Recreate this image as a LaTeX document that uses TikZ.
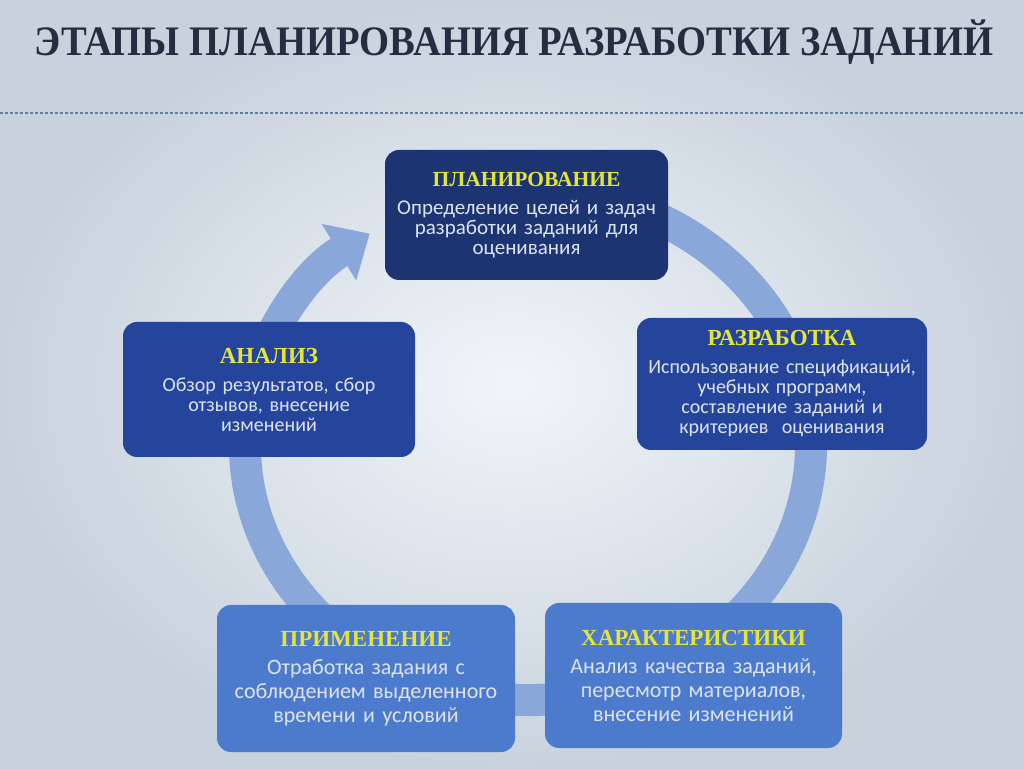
\documentclass[tikz,border=0pt]{standalone}
\usepackage{fontspec}
\setmainfont{Carlito}
\newfontfamily\headfont{Liberation Serif}
\usetikzlibrary{arrows.meta}
\definecolor{bgin}{HTML}{F1F5F9}
\definecolor{bgout}{HTML}{C8D2DD}
\definecolor{darkbox}{HTML}{1D3473}
\definecolor{midbox}{HTML}{24459B}
\definecolor{lightbox}{HTML}{4C7ACD}
\definecolor{ringc}{HTML}{8AA7DA}
\definecolor{bodyc}{HTML}{DDE3EE}
\definecolor{headc}{HTML}{E4E53B}
\definecolor{titlec}{HTML}{272D40}
\definecolor{linec}{HTML}{5F7CA3}
\newcommand{\stagehead}[2][23]{{\headfont\bfseries\fontsize{#1}{24}\selectfont\color{headc}#2}}
\begin{document}
\begin{tikzpicture}[x=1pt, y=1pt,
  every node/.style={rounded corners=14pt, align=center, inner sep=0pt, text=bodyc},
  ring/.style={line width=32pt, draw=ringc, -{Triangle[width=64pt, length=36pt]}}]
\useasboundingbox (0,0) rectangle (1024,768);
\shade[inner color=bgin, outer color=bgout] (0,0) rectangle (1024,768);
% title and rule
\node[text=titlec, font=\headfont\bfseries\fontsize{42}{44}\selectfont] (title) at (514,726)
  {\scalebox{0.92}[1]{ЭТАПЫ ПЛАНИРОВАНИЯ РАЗРАБОТКИ ЗАДАНИЙ}};
\coordinate (l0) at (0,655);
\coordinate (l1) at (1024,655);
\draw[linec, line width=2pt, dash pattern=on 3pt off 2pt] (l0) -- (l1);
% cycle ring
\coordinate (c) at (528,323);
\draw[ring] (c) ++(440:283 and 255) arc[start angle=440, end angle=124, x radius=283, y radius=255];
% stages
\node[fill=darkbox, minimum width=283pt, minimum height=130pt, text width=275pt,
  font=\fontsize{21}{20}\selectfont] (n0) at (526.5,553)
  {\stagehead[21.5]{ПЛАНИРОВАНИЕ}\\[8pt] Определение целей и задач\\ разработки заданий для\\ оценивания};
\node[fill=midbox, minimum width=290pt, minimum height=132pt, text width=284pt,
  font=\fontsize{20}{20}\selectfont] (n1) at (782,384)
  {\stagehead{РАЗРАБОТКА}\\[8pt] Использование спецификаций,\\ учебных программ,\\ составление заданий и\\ критериев\ \ оценивания};
\node[fill=lightbox, minimum width=297pt, minimum height=145pt, text width=290pt,
  font=\fontsize{22}{24}\selectfont] (n2) at (693.5,92.5)
  {\stagehead{ХАРАКТЕРИСТИКИ}\\[4pt] Анализ качества заданий,\\ пересмотр материалов,\\ внесение изменений};
\node[fill=lightbox, minimum width=298pt, minimum height=147pt, text width=290pt,
  font=\fontsize{22}{24}\selectfont] (n3) at (366,89.5)
  {\stagehead{ПРИМЕНЕНИЕ}\\[4pt] Отработка задания с\\ соблюдением выделенного\\ времени и условий};
\node[fill=midbox, minimum width=292pt, minimum height=135pt, text width=284pt,
  font=\fontsize{20}{20}\selectfont] (n4) at (269,378.5)
  {\stagehead{АНАЛИЗ}\\[8pt] Обзор результатов, сбор\\ отзывов, внесение\\ изменений};
\end{tikzpicture}
\end{document}
